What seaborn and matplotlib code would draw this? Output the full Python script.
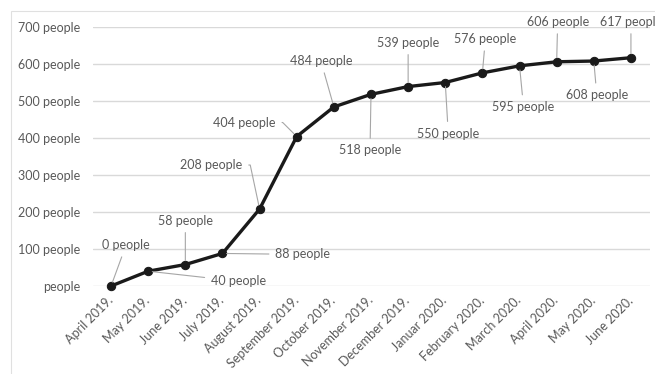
import matplotlib
matplotlib.use("Agg")
import matplotlib.pyplot as plt
from matplotlib.patches import Rectangle
import seaborn as sns

months = ["April 2019.", "May 2019.", "June 2019.", "July 2019.", "August 2019.",
          "September 2019.", "October 2019.", "November 2019.", "December 2019.",
          "Januar 2020.", "February 2020.", "March 2020.", "April 2020.",
          "May 2020.", "June 2020."]
people = [0, 40, 58, 88, 208, 404, 484, 518, 539, 550, 576, 595, 606, 608, 617]
y_ticks = [0, 100, 200, 300, 400, 500, 600, 700]

# label offsets (pixels) from each point to its data label
label_offsets = [(15, 41), (90, -10), (0, 44), (80, -1), (-48, 44), (-52, 14),
                 (-13, 46), (-1, -56), (0, 44), (3, -51), (3, 34), (4, -41),
                 (1, 40), (3, -34), (0, 36)]

# elbow leaders for the two labels sitting left of the steep segment
elbow = {4: 102, 5: 135}

sns.set_theme(style="white")
plt.rcParams["font.family"] = ["Lato", "DejaVu Sans"]

TXT = "#595959"
GRID = "#d9d9d9"
FS = 9

fig = plt.figure(figsize=(6.55, 3.74), dpi=100)
fig.patches.append(Rectangle((11 / 655, -0.1), 1.2, (374 - 11) / 374 + 0.1,
                             transform=fig.transFigure, fill=False,
                             edgecolor="#e0e0e0", linewidth=0.8))
ax = fig.add_axes([92.5 / 655, (374 - 286) / 374, 557 / 655, 259 / 374])

sns.lineplot(x=months, y=people, sort=False, ax=ax, color="#1a1a1a",
             linewidth=2.4, marker="o", markersize=6, markeredgecolor="#1a1a1a",
             clip_on=False, zorder=3)

ax.set_xlim(-0.5, len(months) - 0.5)
ax.set_ylim(0, 700)
ax.set_yticks(y_ticks)
ax.set_yticklabels([f"{v} people" if v else "people" for v in y_ticks])
ax.set_xticks(range(len(months)))
ax.set_xticklabels(months, rotation=45, ha="right", va="center",
                   rotation_mode="anchor")
ax.tick_params(axis="y", length=0, pad=9, labelsize=FS, labelcolor=TXT)
ax.tick_params(axis="x", length=0, pad=9, labelsize=FS, labelcolor=TXT)
ax.yaxis.grid(True, color=GRID, linewidth=1)
ax.xaxis.grid(False)
for s in ax.spines.values():
    s.set_visible(False)
ax.set_xlabel("")
ax.set_ylabel("")

for i, (v, off) in enumerate(zip(people, label_offsets)):
    arrow = dict(arrowstyle="-", color="#a6a6a6", linewidth=0.8,
                 shrinkA=2, shrinkB=3)
    if i in elbow:
        arrow.update(relpos=(1, 0.5),
                     connectionstyle=f"angle,angleA=0,angleB={elbow[i]},rad=0")
    ax.annotate(f"{v} people", xy=(i, v), xytext=off, textcoords="offset pixels",
                ha="center", va="center", fontsize=FS, color=TXT,
                annotation_clip=False, arrowprops=arrow)

fig.savefig("out.png", dpi=100)
